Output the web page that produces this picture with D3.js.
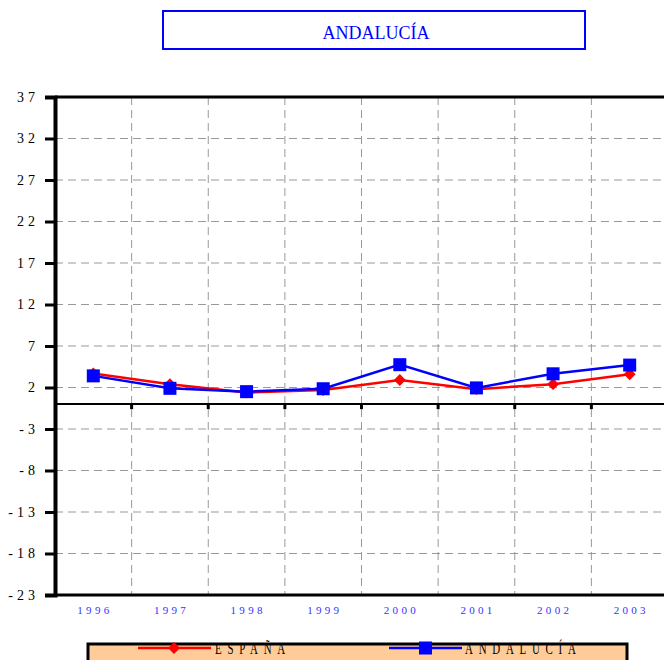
<!DOCTYPE html>
<html><head><meta charset="utf-8">
<script src="https://cdn.jsdelivr.net/npm/d3@7"></script>
<style>body{margin:0;background:#fff}svg{display:block}svg text{font-family:"Liberation Serif","Times New Roman",serif}</style>
</head><body>
<script>
const title = "ANDALUCÍA";
const years = ["1996","1997","1998","1999","2000","2001","2002","2003"];
const espana = [3.7, 2.4, 1.4, 1.7, 2.9, 1.8, 2.4, 3.6];
const andalucia = [3.4, 1.9, 1.5, 1.85, 4.75, 1.95, 3.65, 4.7];
const yTicks = [37, 32, 27, 22, 17, 12, 7, 2, -3, -8, -13, -18, -23];
const seriesNames = ["ESPAÑA", "ANDALUCÍA"];

(function(){
const W = 664, H = 660;
const svg = d3.select("body").append("svg").attr("width", W).attr("height", H);
const font = "Liberation Serif, Times New Roman, serif";

const pL = 55, pR = 668, pT = 97, pB = 595;
const x = d3.scaleBand().domain(years).range([pL, pR]);
const y = d3.scaleLinear().domain([-23, 37]).range([pB, pT]);

// title box
svg.append("rect").attr("x", 163).attr("y", 11).attr("width", 422).attr("height", 38)
  .attr("fill", "#fff").attr("stroke", "#0000ff").attr("stroke-width", 2);
svg.append("text").attr("x", 376).attr("y", 39).attr("text-anchor", "middle")
  .style("font-family", font).style("font-size", "18px").attr("fill", "#0000ff").text(title);

// grid
const g = svg.append("g");
g.selectAll("line.hg").data(yTicks.filter(t => t !== 37 && t !== -23)).join("line")
  .attr("x1", pL).attr("x2", W).attr("y1", d => y(d)).attr("y2", d => y(d))
  .attr("stroke", "#999").attr("stroke-width", 1).attr("stroke-dasharray", "8,5");
g.selectAll("line.vg").data(years.slice(1)).join("line")
  .attr("x1", d => x(d)).attr("x2", d => x(d)).attr("y1", pT).attr("y2", pB)
  .attr("stroke", "#999").attr("stroke-width", 1).attr("stroke-dasharray", "8,5");

// top border
svg.append("line").attr("x1", pL).attr("x2", W).attr("y1", pT).attr("y2", pT)
  .attr("stroke", "#000").attr("stroke-width", 3);
// zero line
svg.append("line").attr("x1", pL).attr("x2", W).attr("y1", y(0)).attr("y2", y(0))
  .attr("stroke", "#000").attr("stroke-width", 2);
svg.selectAll("line.zt").data(years.slice(1)).join("line")
  .attr("x1", d => x(d)).attr("x2", d => x(d)).attr("y1", y(0)).attr("y2", y(0) + 5)
  .attr("stroke", "#000").attr("stroke-width", 3);
// bottom axis
svg.append("line").attr("x1", pL).attr("x2", W).attr("y1", pB).attr("y2", pB)
  .attr("stroke", "#000").attr("stroke-width", 3);

// y axis
const yAxis = d3.axisLeft(y).tickValues(yTicks).tickSize(10).tickPadding(6)
  .tickFormat(d => String(d));
const ya = svg.append("g").attr("transform", `translate(${pL},0)`).call(yAxis)
  .attr("font-family", null).attr("font-size", null);
ya.select(".domain").attr("stroke", "#000").attr("stroke-width", 4);
ya.selectAll(".tick line").attr("stroke", "#000").attr("stroke-width", 3);
ya.selectAll(".tick text").style("font-family", font).style("font-size", "14px")
  .attr("fill", "#000").style("letter-spacing", "4px").attr("dy", "0.32em");

// x labels
const xAxis = d3.axisBottom(x).tickSize(0).tickPadding(9);
const xa = svg.append("g").attr("transform", `translate(0,${pB})`).call(xAxis)
  .attr("font-family", null).attr("font-size", null);
xa.select(".domain").remove();
xa.selectAll(".tick text").style("font-family", font).style("font-size", "11px")
  .attr("fill", "#3333ff").style("letter-spacing", "3.3px").attr("dx", "1.6px")
  .attr("dy", "0.9em");

// lines
const cx = d => x(d) + x.bandwidth() / 2;
const line = d3.line().x(d => cx(d[0])).y(d => y(d[1]));
const espData = years.map((yr, i) => [yr, espana[i]]);
const andData = years.map((yr, i) => [yr, andalucia[i]]);

svg.append("path").datum(espData).attr("d", line).attr("fill", "none")
  .attr("stroke", "#ff0000").attr("stroke-width", 2.5);
svg.selectAll("path.dia").data(espData).join("path")
  .attr("d", d3.symbol().type(d3.symbolDiamond2).size(90))
  .attr("transform", d => `translate(${cx(d[0])},${y(d[1])})`).attr("fill", "#ff0000");

svg.append("path").datum(andData).attr("d", line).attr("fill", "none")
  .attr("stroke", "#0000ff").attr("stroke-width", 2.5);
svg.selectAll("rect.sq").data(andData).join("rect")
  .attr("x", d => cx(d[0]) - 6.5).attr("y", d => y(d[1]) - 6.5)
  .attr("width", 13).attr("height", 13).attr("fill", "#0000ff");

// legend
svg.append("rect").attr("x", 88).attr("y", 644).attr("width", 539).attr("height", 30)
  .attr("fill", "#ffcc99").attr("stroke", "#000").attr("stroke-width", 3);
const ly = 648;
svg.append("line").attr("x1", 138).attr("x2", 211).attr("y1", ly).attr("y2", ly)
  .attr("stroke", "#ff0000").attr("stroke-width", 2.5);
svg.append("path").attr("d", d3.symbol().type(d3.symbolDiamond2).size(90))
  .attr("transform", `translate(174,${ly})`).attr("fill", "#ff0000");
svg.append("text").attr("transform", `translate(215,${ly + 5.5}) scale(0.68,1)`)
  .style("font-family", font).style("font-size", "16px").style("letter-spacing", "8.5px")
  .attr("fill", "#000").text(seriesNames[0]);

svg.append("line").attr("x1", 389).attr("x2", 462).attr("y1", ly).attr("y2", ly)
  .attr("stroke", "#0000ff").attr("stroke-width", 2.5);
svg.append("rect").attr("x", 419).attr("y", ly - 6.5).attr("width", 13).attr("height", 13)
  .attr("fill", "#0000ff");
svg.append("text").attr("transform", `translate(465,${ly + 5.5}) scale(0.68,1)`)
  .style("font-family", font).style("font-size", "16px").style("letter-spacing", "8.5px")
  .attr("fill", "#000").text(seriesNames[1]);
})();
</script>
</body></html>
